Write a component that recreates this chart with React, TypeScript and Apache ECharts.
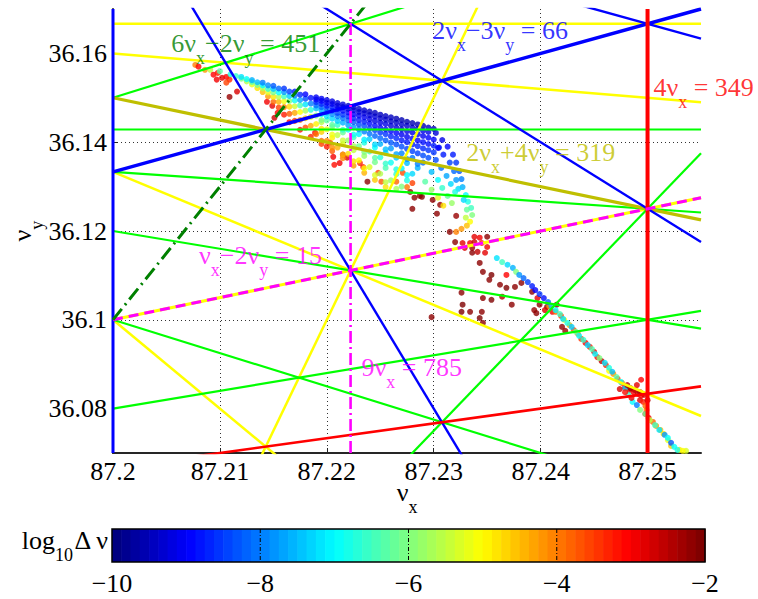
import React, { useEffect, useRef } from "react";
import * as echarts from "echarts";

// ---------- axes ----------
const X_MIN = 87.2;
const X_MAX = 87.255;
const Y_MIN = 36.07;
const Y_MAX = 36.17;
const xTickValues = [87.2, 87.21, 87.22, 87.23, 87.24, 87.25];
const yTickValues = [36.08, 36.1, 36.12, 36.14, 36.16];
const CB_MIN = -10;
const CB_MAX = -2;
const colorbarTicks = [-10, -8, -6, -4, -2];

// ---------- resonance lines  a*nux + b*nuy = c ----------
const resA = [0, 1, 3, 4, 5, 2, 0, 3, 1, 2, 3, 2, 5, 2, 5, 2, 4, 3, 2, 4, 1, 1, 9, 6];
const resB = [6, 5, 3, 2, -1, -4, 7, -4, 6, 5, 4, -5, -2, 4, 0, -3, 1, 2, 3, 0, -3, -2, 0, -2];
const resC = [217, 268, 370, 421, 400, 30, 253, 117, 304, 355, 406, -6, 364, 319, 436, 66, 385, 334, 283, 349, -21, 15, 785, 451];
// styles (kept apart from the values)
const resColor = [
  "#FFFF00", "#FFFF00", "#FFFF00", "#FFFF00", "#FFFF00", "#FFFF00",
  "#00FF00", "#00FF00", "#00FF00", "#00FF00", "#00FF00", "#00FF00", "#00FF00",
  "#BFBF00",
  "#0000FF", "#0000FF", "#0000FF", "#0000FF", "#0000FF",
  "#FF0000", "#FF0000",
  "#FF00FF", "#FF00FF",
  "#008000",
];
const resWidth = [2.5, 2.5, 2.5, 2.5, 2.5, 3, 2.2, 2.2, 2.2, 2.2, 2.2, 2.2, 2.2, 3.2, 3, 3.4, 2.4, 2.4, 2.4, 4, 2.6, 3, 2.6, 3];
const resDash: any[] = [
  "solid", "solid", "solid", "solid", "solid", "solid",
  "solid", "solid", "solid", "solid", "solid", "solid", "solid",
  "solid",
  "solid", "solid", "solid", "solid", "solid",
  "solid", "solid",
  [10, 6], [12, 4, 2, 4],
  [14, 5, 2, 5],
];

// ---------- annotations ----------
const annText = [
  "{m|6ν}{s|x}{m|−2ν}{s|y}{m| = 451}",
  "{m|2ν}{s|x}{m|−3ν}{s|y}{m| = 66}",
  "{m|4ν}{s|x}{m| = 349}",
  "{m|2ν}{s|x}{m|+4ν}{s|y}{m| = 319}",
  "{m|ν}{s|x}{m|−2ν}{s|y}{m| = 15}",
  "{m|9ν}{s|x}{m| = 785}",
];
const annX = [87.2055, 87.2299, 87.2506, 87.2331, 87.2081, 87.2233];
const annY = [36.1651, 36.168, 36.1552, 36.1405, 36.1173, 36.0921];
const annColor = ["#008000", "#0000FF", "#FF0000", "#BFBF00", "#FF00FF", "#FF00FF"];

// ---------- scatter points [nux, nuy, log10 dnu] ----------
const bandRowA = [[87.2100,36.1560,-6.3],[87.2110,36.1553,-6.8],[87.2120,36.1547,-7.2],[87.2130,36.1540,-7.6],[87.2140,36.1534,-8.0],[87.2150,36.1527,-8.3],[87.2160,36.1521,-8.6],[87.2170,36.1514,-8.8],[87.2180,36.1508,-9.0],[87.2190,36.1501,-9.1],[87.2200,36.1495,-9.2],[87.2210,36.1488,-9.3],[87.2220,36.1482,-9.4],[87.2230,36.1475,-9.4],[87.2240,36.1469,-9.5],[87.2250,36.1462,-9.5],[87.2260,36.1456,-9.5],[87.2270,36.1450,-9.6],[87.2280,36.1443,-9.6],[87.2290,36.1437,-9.6],[87.2300,36.1430,-9.5]];
const bandRowA2 = [[87.2195,36.1498,-9.1],[87.2205,36.1492,-9.2],[87.2215,36.1485,-9.3],[87.2225,36.1479,-9.4],[87.2235,36.1472,-9.4],[87.2245,36.1466,-9.5],[87.2255,36.1459,-9.5],[87.2265,36.1453,-9.6],[87.2275,36.1446,-9.6],[87.2285,36.1440,-9.6],[87.2295,36.1433,-9.5]];
const bandRowB = [[87.2115,36.1549,-6.6],[87.2125,36.1542,-7.0],[87.2135,36.1535,-7.5],[87.2145,36.1528,-7.9],[87.2155,36.1521,-8.2],[87.2165,36.1514,-8.5],[87.2175,36.1507,-8.7],[87.2185,36.1500,-8.9],[87.2195,36.1493,-9.0],[87.2205,36.1486,-9.1],[87.2215,36.1479,-9.2],[87.2225,36.1472,-9.2],[87.2235,36.1465,-9.3],[87.2245,36.1458,-9.3],[87.2255,36.1451,-9.4],[87.2265,36.1444,-9.4],[87.2275,36.1437,-9.4],[87.2285,36.1430,-9.3],[87.2295,36.1423,-9.2]];
const bandRowB2 = [[87.2190,36.1496,-9.0],[87.2200,36.1489,-9.1],[87.2210,36.1482,-9.2],[87.2220,36.1475,-9.2],[87.2230,36.1468,-9.3],[87.2240,36.1461,-9.3],[87.2250,36.1454,-9.4],[87.2260,36.1447,-9.4],[87.2270,36.1440,-9.4],[87.2280,36.1433,-9.3],[87.2290,36.1426,-9.2]];
const bandRowC = [[87.2120,36.1543,-6.0],[87.2130,36.1536,-6.5],[87.2140,36.1528,-7.0],[87.2150,36.1520,-7.4],[87.2160,36.1513,-7.8],[87.2170,36.1505,-8.1],[87.2180,36.1498,-8.4],[87.2190,36.1490,-8.6],[87.2200,36.1482,-8.8],[87.2210,36.1475,-8.9],[87.2220,36.1467,-9.0],[87.2230,36.1460,-9.1],[87.2240,36.1452,-9.2],[87.2250,36.1444,-9.2],[87.2260,36.1437,-9.3],[87.2270,36.1429,-9.3],[87.2280,36.1422,-9.2],[87.2290,36.1414,-9.1],[87.2300,36.1406,-9.0]];
const bandRowC2 = [[87.2195,36.1486,-8.7],[87.2205,36.1479,-8.8],[87.2215,36.1471,-8.9],[87.2225,36.1463,-9.0],[87.2235,36.1456,-9.1],[87.2245,36.1448,-9.2],[87.2255,36.1441,-9.2],[87.2265,36.1433,-9.3],[87.2275,36.1425,-9.2],[87.2285,36.1418,-9.1],[87.2295,36.1410,-9.0]];
const bandRowD = [[87.2125,36.1537,-5.6],[87.2135,36.1529,-6.1],[87.2145,36.1520,-6.6],[87.2155,36.1512,-7.0],[87.2165,36.1504,-7.4],[87.2175,36.1495,-7.7],[87.2185,36.1487,-8.0],[87.2195,36.1479,-8.2],[87.2205,36.1471,-8.4],[87.2215,36.1462,-8.6],[87.2225,36.1454,-8.7],[87.2235,36.1446,-8.8],[87.2245,36.1437,-8.9],[87.2255,36.1429,-9.0],[87.2265,36.1421,-9.0],[87.2275,36.1412,-9.1],[87.2285,36.1404,-9.0],[87.2295,36.1396,-8.9],[87.2305,36.1388,-8.8]];
const bandRowD2 = [[87.2190,36.1483,-8.1],[87.2200,36.1475,-8.3],[87.2210,36.1466,-8.5],[87.2220,36.1458,-8.6],[87.2230,36.1450,-8.8],[87.2240,36.1442,-8.9],[87.2250,36.1433,-9.0],[87.2260,36.1425,-9.0],[87.2270,36.1417,-9.1],[87.2280,36.1408,-9.0],[87.2290,36.1400,-8.9],[87.2300,36.1392,-8.8]];
const bandRowE = [[87.2130,36.1530,-5.2],[87.2140,36.1521,-5.6],[87.2150,36.1512,-6.1],[87.2160,36.1503,-6.5],[87.2170,36.1494,-6.9],[87.2180,36.1485,-7.2],[87.2190,36.1476,-7.5],[87.2200,36.1467,-7.8],[87.2210,36.1458,-8.0],[87.2220,36.1449,-8.2],[87.2230,36.1440,-8.4],[87.2240,36.1431,-8.5],[87.2250,36.1422,-8.6],[87.2260,36.1413,-8.7],[87.2270,36.1404,-8.8],[87.2280,36.1395,-8.8],[87.2290,36.1386,-8.7],[87.2300,36.1377,-8.6]];
const bandRowE2 = [[87.2195,36.1472,-7.6],[87.2205,36.1463,-7.9],[87.2215,36.1454,-8.1],[87.2225,36.1445,-8.3],[87.2235,36.1436,-8.4],[87.2245,36.1427,-8.5],[87.2255,36.1418,-8.6],[87.2265,36.1409,-8.7],[87.2275,36.1400,-8.8],[87.2285,36.1391,-8.7],[87.2295,36.1382,-8.6]];
const bandRowF = [[87.2135,36.1522,-4.8],[87.2145,36.1512,-5.2],[87.2155,36.1502,-5.6],[87.2165,36.1493,-6.0],[87.2175,36.1483,-6.4],[87.2185,36.1473,-6.7],[87.2195,36.1463,-7.0],[87.2205,36.1453,-7.3],[87.2215,36.1444,-7.6],[87.2225,36.1434,-7.8],[87.2235,36.1424,-8.0],[87.2245,36.1414,-8.2],[87.2255,36.1404,-8.3],[87.2265,36.1395,-8.4],[87.2275,36.1385,-8.5],[87.2285,36.1375,-8.5],[87.2295,36.1365,-8.4]];
const bandRowF2 = [[87.2200,36.1458,-7.2],[87.2210,36.1448,-7.4],[87.2220,36.1439,-7.7],[87.2230,36.1429,-7.9],[87.2240,36.1419,-8.1],[87.2250,36.1409,-8.2],[87.2260,36.1399,-8.3],[87.2270,36.1390,-8.4],[87.2280,36.1380,-8.5],[87.2290,36.1370,-8.4]];
const bandRowG = [[87.2140,36.1513,-4.5],[87.2150,36.1502,-4.8],[87.2160,36.1492,-5.1],[87.2170,36.1481,-5.4],[87.2180,36.1471,-5.7],[87.2190,36.1460,-6.0],[87.2200,36.1449,-6.3],[87.2210,36.1439,-6.6],[87.2220,36.1428,-6.9],[87.2230,36.1418,-7.1],[87.2240,36.1407,-7.4],[87.2250,36.1396,-7.6],[87.2260,36.1386,-7.8],[87.2270,36.1375,-8.0],[87.2280,36.1365,-8.1],[87.2290,36.1354,-8.2]];
const bandRowG2 = [[87.2195,36.1450,-6.0],[87.2205,36.1439,-6.3],[87.2215,36.1428,-6.6],[87.2225,36.1417,-6.9],[87.2235,36.1406,-7.1],[87.2245,36.1395,-7.3],[87.2255,36.1384,-7.5],[87.2265,36.1373,-7.7],[87.2275,36.1362,-7.9],[87.2285,36.1351,-8.0]];
const bandRowH = [[87.2145,36.1503,-4.2],[87.2155,36.1491,-4.4],[87.2165,36.1480,-4.7],[87.2175,36.1468,-5.0],[87.2185,36.1457,-5.3],[87.2195,36.1445,-5.6],[87.2205,36.1434,-5.9],[87.2215,36.1422,-6.2],[87.2225,36.1411,-6.5],[87.2235,36.1399,-6.8],[87.2245,36.1388,-7.0],[87.2255,36.1376,-7.2],[87.2265,36.1365,-7.4],[87.2275,36.1353,-7.5],[87.2285,36.1342,-7.6]];
const bandRowI = [[87.2150,36.1491,-3.8],[87.2160,36.1479,-4.0],[87.2170,36.1466,-4.3],[87.2180,36.1454,-4.6],[87.2190,36.1441,-4.9],[87.2200,36.1429,-5.2],[87.2210,36.1416,-5.5],[87.2220,36.1404,-5.8],[87.2230,36.1391,-6.1],[87.2240,36.1379,-6.4],[87.2250,36.1366,-6.7],[87.2260,36.1354,-6.9],[87.2270,36.1341,-7.1],[87.2280,36.1329,-7.3]];
const bandRowI2 = [[87.2195,36.1430,-4.8],[87.2205,36.1417,-5.1],[87.2215,36.1404,-5.4],[87.2225,36.1391,-5.7],[87.2235,36.1378,-6.0],[87.2245,36.1365,-6.3],[87.2255,36.1352,-6.6],[87.2265,36.1339,-6.8],[87.2275,36.1326,-7.0]];
const bandRowJ = [[87.2155,36.1478,-3.5],[87.2165,36.1464,-3.7],[87.2175,36.1450,-4.0],[87.2185,36.1437,-4.3],[87.2195,36.1423,-4.6],[87.2205,36.1410,-4.9],[87.2215,36.1396,-5.2],[87.2225,36.1382,-5.5],[87.2235,36.1369,-5.8],[87.2245,36.1355,-6.1],[87.2255,36.1342,-6.4],[87.2265,36.1328,-6.6],[87.2275,36.1314,-6.8]];
const bandRowK = [[87.2160,36.1462,-3.2],[87.2170,36.1448,-3.4],[87.2180,36.1433,-3.6],[87.2190,36.1418,-3.9],[87.2200,36.1403,-4.1],[87.2210,36.1388,-4.4],[87.2220,36.1374,-4.7],[87.2230,36.1359,-5.0],[87.2240,36.1344,-5.3],[87.2250,36.1329,-5.6],[87.2260,36.1314,-5.8],[87.2270,36.1300,-6.0]];
const bandRowK2 = [[87.2195,36.1403,-3.8],[87.2205,36.1388,-4.1],[87.2215,36.1372,-4.4],[87.2225,36.1357,-4.7],[87.2235,36.1341,-5.0],[87.2245,36.1326,-5.3],[87.2255,36.1310,-5.5],[87.2265,36.1295,-5.7]];
const bandRowL = [[87.2165,36.1445,-3.0],[87.2175,36.1428,-3.1],[87.2185,36.1412,-3.3],[87.2195,36.1396,-3.5],[87.2205,36.1380,-3.7],[87.2215,36.1364,-4.0],[87.2225,36.1347,-4.2],[87.2235,36.1331,-4.4],[87.2245,36.1315,-4.6],[87.2255,36.1299,-4.8]];
const tipPoints = [[87.2302,36.1421,-9.3],[87.2308,36.1405,-9.2],[87.2313,36.1390,-9.0],[87.2318,36.1372,-8.8],[87.2321,36.1354,-8.6],[87.2324,36.1335,-8.3],[87.2326,36.1317,-8.0],[87.2327,36.1299,-7.6],[87.2304,36.1387,-9.0],[87.2309,36.1372,-8.8],[87.2315,36.1354,-8.5],[87.2319,36.1335,-8.2],[87.2321,36.1315,-7.8],[87.2323,36.1295,-7.3],[87.2302,36.1360,-8.4],[87.2307,36.1342,-8.1],[87.2312,36.1324,-7.7],[87.2316,36.1306,-7.3],[87.2320,36.1288,-6.8],[87.2298,36.1333,-7.5],[87.2304,36.1315,-7.0],[87.2308,36.1297,-6.6],[87.2313,36.1279,-6.2],[87.2317,36.1263,-5.8],[87.2292,36.1311,-6.3],[87.2298,36.1293,-5.8],[87.2304,36.1275,-5.2],[87.2309,36.1257,-4.8]];
const hookPoints = [[87.2330,36.1281,-7.0],[87.2332,36.1266,-6.8],[87.2335,36.1252,-6.5],[87.2336,36.1236,-6.0],[87.2334,36.1221,-5.0],[87.2331,36.1212,-4.5],[87.2326,36.1205,-4.2],[87.2321,36.1198,-4.0],[87.2328,36.1270,-7.3],[87.2331,36.1248,-6.2],[87.2330,36.1230,-5.5]];
const tipLeftPoints = [[87.2077,36.1574,-4.0],[87.2080,36.1570,-3.0],[87.2086,36.1563,-4.2],[87.2091,36.1563,-5.5],[87.2094,36.1552,-3.0],[87.2098,36.1556,-3.2],[87.2102,36.1545,-2.8],[87.2106,36.1547,-3.0],[87.2109,36.1541,-3.3],[87.2097,36.1541,-2.9],[87.2106,36.1534,-3.5],[87.2109,36.1502,-2.2],[87.2116,36.1514,-2.7],[87.2144,36.1491,-2.9],[87.2149,36.1482,-2.8],[87.2154,36.1466,-3.0],[87.2151,36.1455,-2.6]];
const bandRedPoints = [[87.2189,36.1421,-3.0],[87.2200,36.1390,-3.2],[87.2206,36.1367,-2.9],[87.2203,36.1399,-3.4],[87.2215,36.1372,-2.8],[87.2219,36.1365,-2.7],[87.2212,36.1353,-2.9],[87.2207,36.1349,-3.1],[87.2231,36.1353,-3.3],[87.2234,36.1344,-3.2],[87.2238,36.1311,-2.1],[87.2248,36.1331,-3.6],[87.2251,36.1311,-3.7],[87.2265,36.1311,-3.8],[87.2275,36.1299,-3.9],[87.2278,36.1288,-2.2],[87.2271,36.1331,-3.6],[87.2280,36.1308,-3.5],[87.2282,36.1275,-2.1],[87.2287,36.1279,-2.2],[87.2299,36.1270,-2.1],[87.2306,36.1259,-2.2],[87.2280,36.1250,-2.1],[87.2289,36.1277,-2.0],[87.2303,36.1239,-2.1],[87.2321,36.1234,-2.2],[87.2315,36.1198,-2.1]];
const midRedPoints = [[87.2320,36.1175,-2.1],[87.2327,36.1173,-2.8],[87.2329,36.1162,-2.7],[87.2334,36.1173,-2.9],[87.2338,36.1187,-2.8],[87.2343,36.1185,-2.9],[87.2350,36.1187,-2.1],[87.2338,36.1175,-2.6],[87.2345,36.1173,-3.0],[87.2350,36.1164,-2.9],[87.2336,36.1162,-2.2],[87.2336,36.1151,-2.1],[87.2341,36.1153,-2.5],[87.2348,36.1151,-2.8],[87.2343,36.1128,-2.1],[87.2346,36.1108,-2.1],[87.2354,36.1101,-2.0],[87.2352,36.1090,-2.1],[87.2362,36.1079,-2.1],[87.2368,36.1072,-2.0],[87.2376,36.1074,-2.1],[87.2382,36.1083,-2.1],[87.2326,36.1061,-2.1],[87.2346,36.1049,-2.1],[87.2354,36.1045,-2.0],[87.2364,36.1052,-2.4],[87.2368,36.1101,-3.0],[87.2373,36.1034,-2.1],[87.2327,36.1034,-2.0],[87.2334,36.1018,-2.1],[87.2326,36.1018,-2.0],[87.2345,36.1018,-2.1],[87.2343,36.1004,-2.0],[87.2298,36.1006,-2.1],[87.2346,36.0993,-2.1],[87.2392,36.1063,-2.1],[87.2397,36.1049,-2.8],[87.2399,36.1034,-2.1],[87.2406,36.1029,-2.0],[87.2404,36.1022,-2.7],[87.2411,36.1018,-2.9],[87.2415,36.1034,-2.1],[87.2394,36.1022,-2.2],[87.2396,36.1015,-2.1],[87.2420,36.0984,-2.1],[87.2423,36.0975,-2.2]];
const streakCool = [[87.2359,36.1139,-7.2],[87.2364,36.1130,-6.5],[87.2369,36.1124,-7.3],[87.2374,36.1117,-7.6],[87.2377,36.1108,-6.0],[87.2380,36.1101,-7.8],[87.2384,36.1094,-8.2],[87.2388,36.1085,-8.5],[87.2392,36.1076,-8.8],[87.2395,36.1067,-9.0],[87.2399,36.1058,-8.6],[87.2403,36.1049,-8.9],[87.2407,36.1040,-8.2],[87.2410,36.1031,-7.5],[87.2414,36.1022,-7.0],[87.2418,36.1013,-6.5],[87.2421,36.1002,-7.2],[87.2425,36.0993,-6.8],[87.2429,36.0984,-7.4],[87.2433,36.0973,-6.2],[87.2436,36.0964,-7.0],[87.2440,36.0955,-6.6],[87.2444,36.0943,-7.3],[87.2448,36.0934,-6.4],[87.2451,36.0923,-7.0],[87.2455,36.0914,-6.0],[87.2460,36.0903,-7.2],[87.2464,36.0892,-6.8],[87.2467,36.0883,-7.5],[87.2471,36.0871,-6.3],[87.2475,36.0860,-6.9],[87.2479,36.0846,-7.4],[87.2482,36.0831,-6.6],[87.2486,36.0815,-7.0],[87.2490,36.0808,-8.0],[87.2493,36.0797,-6.0],[87.2498,36.0788,-6.2],[87.2502,36.0774,-5.5],[87.2507,36.0763,-6.5],[87.2511,36.0752,-7.2],[87.2516,36.0741,-7.8],[87.2519,36.0734,-7.0],[87.2522,36.0723,-8.3],[87.2525,36.0714,-7.0],[87.2528,36.0707,-6.8],[87.2533,36.0705,-5.0]];
const streakWarm = [[87.2408,36.1031,-4.2],[87.2414,36.1018,-3.8],[87.2419,36.1009,-3.5],[87.2422,36.1000,-5.0],[87.2427,36.0988,-4.4],[87.2431,36.0977,-3.6],[87.2435,36.0968,-4.0],[87.2438,36.0957,-3.4],[87.2442,36.0948,-3.0],[87.2446,36.0939,-3.2],[87.2450,36.0928,-2.8],[87.2453,36.0916,-3.0],[87.2457,36.0907,-2.5],[87.2461,36.0898,-3.3],[87.2464,36.0885,-5.0],[87.2468,36.0878,-4.2],[87.2472,36.0867,-3.5],[87.2476,36.0858,-3.8],[87.2479,36.0849,-3.0],[87.2483,36.0842,-2.7],[87.2487,36.0837,-2.9],[87.2491,36.0833,-2.6],[87.2494,36.0829,-3.0],[87.2493,36.0819,-2.8],[87.2496,36.0815,-3.2],[87.2498,36.0806,-3.8],[87.2499,36.0797,-4.0],[87.2498,36.0788,-3.0],[87.2501,36.0779,-2.9],[87.2505,36.0770,-3.8],[87.2508,36.0761,-4.2],[87.2512,36.0752,-4.5],[87.2515,36.0743,-4.8],[87.2519,36.0729,-5.2],[87.2522,36.0716,-4.6],[87.2530,36.0707,-4.9],[87.2536,36.0705,-5.3]];
const clusterRed = [[87.2481,36.0853,-2.4],[87.2484,36.0846,-2.2],[87.2488,36.0842,-2.5],[87.2493,36.0837,-2.3],[87.2497,36.0831,-2.6],[87.2490,36.0853,-2.8],[87.2494,36.0865,-3.0],[87.2479,36.0837,-3.1],[87.2485,36.0824,-2.9],[87.2474,36.0844,-2.7],[87.2500,36.0819,-2.4]];

const allPoints = [
  ...tipLeftPoints, ...bandRedPoints, ...bandRowL, ...bandRowK2, ...bandRowK, ...bandRowJ, ...bandRowI2, ...bandRowI, ...bandRowH,
  ...bandRowG2, ...bandRowG, ...bandRowF2, ...bandRowF, ...bandRowE2, ...bandRowE, ...bandRowD2, ...bandRowD,
  ...bandRowC2, ...bandRowC, ...bandRowB2, ...bandRowB, ...bandRowA2, ...bandRowA,
  ...tipPoints, ...hookPoints, ...midRedPoints, ...streakWarm, ...streakCool, ...clusterRed,
];

// ---------- helpers ----------
const SERIF = "Liberation Serif, Times New Roman, serif";
function jet(t: number): string {
  const cl = (v: number) => Math.max(0, Math.min(1, v));
  const r = cl(1.5 - Math.abs(4 * t - 3));
  const g = cl(1.5 - Math.abs(4 * t - 2));
  const b = cl(1.5 - Math.abs(4 * t - 1));
  return `rgb(${Math.round(r * 255)},${Math.round(g * 255)},${Math.round(b * 255)})`;
}
const colorOf = (v: number) => jet(Math.max(0, Math.min(1, (v - CB_MIN) / (CB_MAX - CB_MIN))));
const richFor = (color: string) => ({
  m: { fontFamily: SERIF, fontSize: 26, lineHeight: 26, verticalAlign: "top", color },
  s: { fontFamily: SERIF, fontSize: 18, lineHeight: 37, verticalAlign: "bottom", color },
});
const minus = (v: number) => String(v).replace("-", "−");

function buildOption(): any {
  const lineSeries = resA.map((a, i) => {
    const b = resB[i];
    const c = resC[i];
    const data = b === 0
      ? [[c / a, Y_MIN], [c / a, Y_MAX]]
      : [[X_MIN, (c - a * X_MIN) / b], [X_MAX, (c - a * X_MAX) / b]];
    return {
      type: "line",
      xAxisIndex: 0,
      yAxisIndex: 0,
      data,
      symbol: "none",
      showSymbol: false,
      silent: true,
      clip: true,
      z: 3,
      lineStyle: { color: resColor[i], width: resWidth[i], type: resDash[i], cap: "butt" },
    };
  });

  const scatterData = allPoints.map((p) => ({ value: p, itemStyle: { color: colorOf(p[2]) } }));

  const annData = annText.map((t, i) => ({
    value: [annX[i], annY[i]],
    label: {
      show: true,
      formatter: t,
      position: [0, 0],
      align: "left",
      verticalAlign: "top",
      fontFamily: SERIF,
      color: annColor[i],
      rich: richFor(annColor[i]),
    },
  }));

  const bands = Array.from({ length: 64 }, (_, i) => [CB_MIN + ((i + 0.5) * (CB_MAX - CB_MIN)) / 64, 0.5, i]);

  return {
    animation: false,
    backgroundColor: "#ffffff",
    textStyle: { fontFamily: SERIF },
    grid: [
      { left: 113, top: 9, width: 588, height: 444, outerBoundsMode: "none", containLabel: false },
      { left: 112, top: 529, width: 593, height: 33, outerBoundsMode: "none", containLabel: false },
    ],
    xAxis: [
      {
        type: "value",
        gridIndex: 0,
        min: X_MIN,
        max: X_MAX,
        interval: 0.01,
        axisLine: { show: true, onZero: false, lineStyle: { color: "#262626", width: 2 } },
        axisTick: { show: true, inside: true, length: 5, customValues: xTickValues, lineStyle: { color: "#262626", width: 1 } },
        axisLabel: { show: true, customValues: xTickValues, fontFamily: SERIF, fontSize: 26, color: "#000", margin: 5 },
        splitLine: { show: true, showMinLine: false, showMaxLine: false, lineStyle: { color: "#333", width: 1, type: [1, 3] } },
        name: "{m|ν}{s|x}",
        nameLocation: "middle",
        nameGap: 26,
        nameMoveOverlap: false,
        nameTextStyle: { fontFamily: SERIF, rich: richFor("#000") },
      },
      {
        type: "value",
        gridIndex: 1,
        min: CB_MIN,
        max: CB_MAX,
        interval: 2,
        axisLine: { show: false },
        axisTick: { show: false },
        splitLine: { show: false },
        axisLabel: { show: true, fontFamily: SERIF, fontSize: 26, color: "#000", margin: 8, formatter: (v: number) => minus(v) },
      },
    ],
    yAxis: [
      {
        type: "value",
        gridIndex: 0,
        min: Y_MIN,
        max: Y_MAX,
        axisLine: { show: true, onZero: false, lineStyle: { color: "#262626", width: 2 } },
        axisTick: { show: true, inside: true, length: 5, customValues: yTickValues, lineStyle: { color: "#262626", width: 1 } },
        axisLabel: { show: true, customValues: yTickValues, fontFamily: SERIF, fontSize: 26, color: "#000", margin: 6 },
        splitLine: { show: true, showMinLine: false, showMaxLine: false, lineStyle: { color: "#333", width: 1, type: [1, 3] } },
        name: "{m|ν}{s|y}",
        nameLocation: "middle",
        nameGap: 67,
        nameRotate: 90,
        nameMoveOverlap: false,
        nameTextStyle: { fontFamily: SERIF, rich: richFor("#000") },
      },
      {
        type: "value",
        gridIndex: 1,
        min: 0,
        max: 1,
        axisLine: { show: false },
        axisTick: { show: false },
        axisLabel: { show: false },
        splitLine: { show: false },
        name: "{m|log}{s|10}{m|Δ ν}",
        nameLocation: "middle",
        nameRotate: 0,
        nameGap: 4,
        nameMoveOverlap: false,
        nameTextStyle: { fontFamily: SERIF, align: "right", verticalAlign: "middle", rich: richFor("#000") },
      },
    ],
    series: [
      {
        type: "scatter",
        xAxisIndex: 0,
        yAxisIndex: 0,
        symbol: "circle",
        symbolSize: 6,
        silent: true,
        z: 2,
        data: scatterData,
      },
      ...lineSeries,
      {
        type: "scatter",
        xAxisIndex: 0,
        yAxisIndex: 0,
        symbolSize: 1,
        silent: true,
        z: 6,
        itemStyle: { color: "rgba(0,0,0,0)" },
        data: annData,
      },
      {
        type: "custom",
        xAxisIndex: 1,
        yAxisIndex: 1,
        silent: true,
        z: 2,
        data: bands,
        renderItem: (params: any, api: any) => {
          const i = api.value(2);
          const w = (CB_MAX - CB_MIN) / 64;
          const x0 = CB_MIN + i * w;
          const p0 = api.coord([x0, 1]);
          const p1 = api.coord([x0 + w, 0]);
          return {
            type: "rect",
            shape: { x: p0[0], y: p0[1], width: p1[0] - p0[0] + 0.6, height: p1[1] - p0[1] },
            style: { fill: jet(i / 63) },
          };
        },
      },
      {
        type: "custom",
        xAxisIndex: 1,
        yAxisIndex: 1,
        silent: true,
        z: 4,
        data: [[CB_MIN, 0]],
        renderItem: (params: any, api: any) => {
          const tl = api.coord([CB_MIN, 1]);
          const br = api.coord([CB_MAX, 0]);
          const children: any[] = [];
          colorbarTicks
            .filter((v) => v > CB_MIN && v < CB_MAX)
            .forEach((v) => {
              const p = api.coord([v, 1]);
              children.push({
                type: "line",
                shape: { x1: p[0], y1: tl[1], x2: p[0], y2: br[1] },
                style: { stroke: "#000", lineWidth: 1, lineDash: [4, 2, 1, 2] },
              });
            });
          children.push({
            type: "rect",
            shape: { x: tl[0], y: tl[1], width: br[0] - tl[0], height: br[1] - tl[1] },
            style: { fill: "none", stroke: "#000", lineWidth: 1.5 },
          });
          return { type: "group", children };
        },
      },
    ],
  };
}

export default function App() {
  const ref = useRef<HTMLDivElement>(null);
  useEffect(() => {
    if (!ref.current) return;
    const chart = echarts.init(ref.current, undefined, { renderer: "svg" });
    chart.setOption(buildOption());
    return () => chart.dispose();
  }, []);
  return (
    <div
      ref={ref}
      style={{ position: "absolute", left: 0, top: 0, width: 758, height: 599, background: "#fff" }}
    />
  );
}
